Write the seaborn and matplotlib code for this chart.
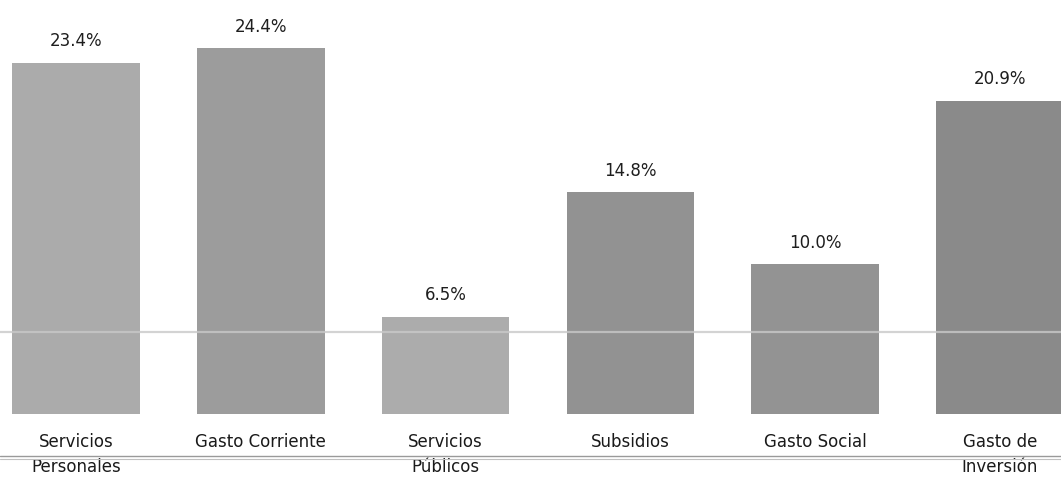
import matplotlib
matplotlib.use("Agg")
import matplotlib.pyplot as plt
from matplotlib.lines import Line2D
import seaborn as sns
import pandas as pd

# Budget components and their share (%)
categories = ["Servicios\nPersonales", "Gasto Corriente", "Servicios\nPúblicos",
              "Subsidios", "Gasto Social", "Gasto de\nInversión"]
values = [23.4, 24.4, 6.5, 14.8, 10.0, 20.9]
value_labels = ["23.4%", "24.4%", "6.5%", "14.8%", "10.0%", "20.9%"]

bar_colors = ["#ababab", "#9c9c9c", "#acacac", "#929292", "#939393", "#8a8a8a"]

df = pd.DataFrame({"categoria": categories, "valor": values})

sns.set_theme(style="white")
plt.rcParams["font.family"] = ["DejaVu Sans"]

fig = plt.figure(figsize=(10.61, 4.87), dpi=100)
ax = fig.add_axes([0, 73 / 487, 1, 414 / 487])

sns.barplot(data=df, x="categoria", y="valor", hue="categoria",
            palette=bar_colors, legend=False, width=0.69, ax=ax,
            saturation=1, edgecolor="none")

ax.set_xlim(-0.411, 5.33)
ax.set_ylim(0, 414 / 15)

for i, (v, lab) in enumerate(zip(values, value_labels)):
    ax.annotate(lab, (i, v), xytext=(0, 9), textcoords="offset points",
                ha="center", va="bottom", fontsize=12, color="#1e1e1e")

ax.set_xlabel("")
ax.set_ylabel("")
ax.set_yticks([])
ax.tick_params(axis="x", length=0, pad=14, labelsize=12, labelcolor="#1a1a1a")
for t in ax.get_xticklabels():
    t.set_linespacing(1.45)
for s in ax.spines.values():
    s.set_visible(False)

# faint page rules crossing the sheet
fig.add_artist(Line2D([0, 1], [1 - 332 / 487, 1 - 332 / 487],
                      transform=fig.transFigure, color="#c9c9c9", lw=1.6, alpha=0.8))
fig.add_artist(Line2D([0, 1], [1 - 456 / 487, 1 - 456 / 487],
                      transform=fig.transFigure, color="#9a9a9a", lw=1.0))
fig.add_artist(Line2D([0, 1], [1 - 459 / 487, 1 - 459 / 487],
                      transform=fig.transFigure, color="#c0c0c0", lw=0.8))

fig.savefig("out.png", dpi=100)
